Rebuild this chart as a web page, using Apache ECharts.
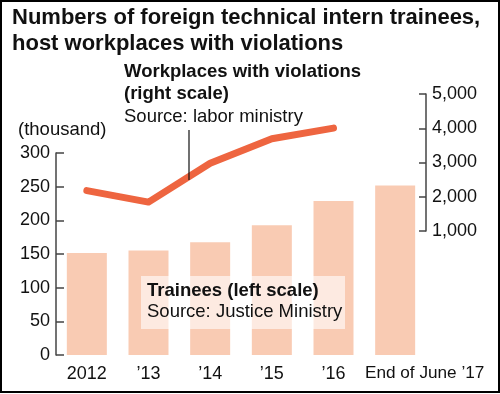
<!DOCTYPE html>
<html>
<head>
<meta charset="utf-8">
<script src="https://cdn.jsdelivr.net/npm/echarts@6/dist/echarts.min.js"></script>
<style>
html,body{margin:0;padding:0;background:#fff;}
#c{width:500px;height:394px;}
</style>
</head>
<body>
<div id="c"></div>
<script>
var categories = ['2012', '\u201913', '\u201914', '\u201915', '\u201916', 'End of June \u201917'];
var trainees = [151.5, 155.2, 167.6, 192.7, 228.6, 251.7];
var violations = [2180, 1844, 2977, 3695, 4004];
var leftTicks = [0, 50, 100, 150, 200, 250, 300];
var rightTicks = [1000, 2000, 3000, 4000, 5000];

var FONT = '"Liberation Sans", Arial, Helvetica, sans-serif';
var chart = echarts.init(document.getElementById('c'));

var xData = categories.map(function (c, i) {
  if (i === categories.length - 1) {
    return { value: c, textStyle: { fontSize: 17.2, padding: [0, 0, 0, 59] } };
  }
  return c;
});

chart.setOption({
  backgroundColor: '#fff',
  animation: false,
  grid: [
    { left: 56, right: 74, top: 153, bottom: 39 },
    { left: 56, right: 74, top: 94, bottom: 163 }
  ],
  xAxis: [
    {
      type: 'category', gridIndex: 0, data: xData,
      axisLine: { show: false }, axisTick: { show: false },
      axisLabel: { color: '#111', fontFamily: FONT, fontSize: 18, margin: 10, interval: 0 }
    },
    {
      type: 'category', gridIndex: 1, data: categories, show: false
    }
  ],
  yAxis: [
    {
      type: 'value', gridIndex: 0, position: 'left',
      min: leftTicks[0], max: leftTicks[leftTicks.length - 1], interval: 50,
      axisLine: { show: true, lineStyle: { color: '#444', width: 1.5 } },
      axisTick: { show: true, inside: true, length: 8, lineStyle: { color: '#444', width: 1.5 } },
      splitLine: { show: false },
      axisLabel: { color: '#111', fontFamily: FONT, fontSize: 18, margin: 6 }
    },
    {
      type: 'value', gridIndex: 1, position: 'right',
      min: rightTicks[0], max: rightTicks[rightTicks.length - 1], interval: 1000,
      axisLine: { show: true, lineStyle: { color: '#444', width: 1.5 } },
      axisTick: { show: true, inside: true, length: 7, lineStyle: { color: '#444', width: 1.5 } },
      splitLine: { show: false },
      axisLabel: {
        color: '#111', fontFamily: FONT, fontSize: 18, margin: 6,
        formatter: function (v) { return v.toLocaleString('en-US'); }
      }
    }
  ],
  series: [
    {
      type: 'bar', xAxisIndex: 0, yAxisIndex: 0, data: trainees,
      barWidth: 40, itemStyle: { color: '#f9cbb3' }, z: 1
    },
    {
      type: 'line', xAxisIndex: 1, yAxisIndex: 1, data: violations,
      symbol: 'none', clip: false,
      lineStyle: { color: '#ee6540', width: 7, cap: 'round', join: 'round' }, z: 5
    }
  ],
  graphic: [
    { type: 'rect', left: 141, top: 276, shape: { width: 204, height: 53 },
      style: { fill: 'rgba(255,255,255,0.6)' }, z: 10 },
    { type: 'text', left: 147, top: 281, z: 11,
      style: { text: 'Trainees (left scale)', font: 'bold 18.5px ' + FONT, fill: '#111' } },
    { type: 'text', left: 147, top: 302, z: 11,
      style: { text: 'Source: Justice Ministry', font: '18.5px ' + FONT, fill: '#111' } },
    { type: 'text', left: 12, top: 7, z: 11,
      style: { text: 'Numbers of foreign technical intern trainees,', font: 'bold 22px ' + FONT, fill: '#111' } },
    { type: 'text', left: 12, top: 33, z: 11,
      style: { text: 'host workplaces with violations', font: 'bold 22px ' + FONT, fill: '#111' } },
    { type: 'text', left: 124, top: 62, z: 11,
      style: { text: 'Workplaces with violations', font: 'bold 18.5px ' + FONT, fill: '#111' } },
    { type: 'text', left: 124, top: 84, z: 11,
      style: { text: '(right scale)', font: 'bold 18.5px ' + FONT, fill: '#111' } },
    { type: 'text', left: 124, top: 107, z: 11,
      style: { text: 'Source: labor ministry', font: '18.5px ' + FONT, fill: '#111' } },
    { type: 'text', left: 18, top: 120, z: 11,
      style: { text: '(thousand)', font: '18.5px ' + FONT, fill: '#111' } },
    { type: 'line', z: 11, shape: { x1: 189, y1: 130, x2: 189, y2: 180 },
      style: { stroke: '#111', lineWidth: 1.2 } },
    { type: 'rect', z: 20, shape: { x: 1, y: 1, width: 498, height: 391 },
      style: { fill: 'none', stroke: '#000', lineWidth: 2 } }
  ]
});
</script>
</body>
</html>
